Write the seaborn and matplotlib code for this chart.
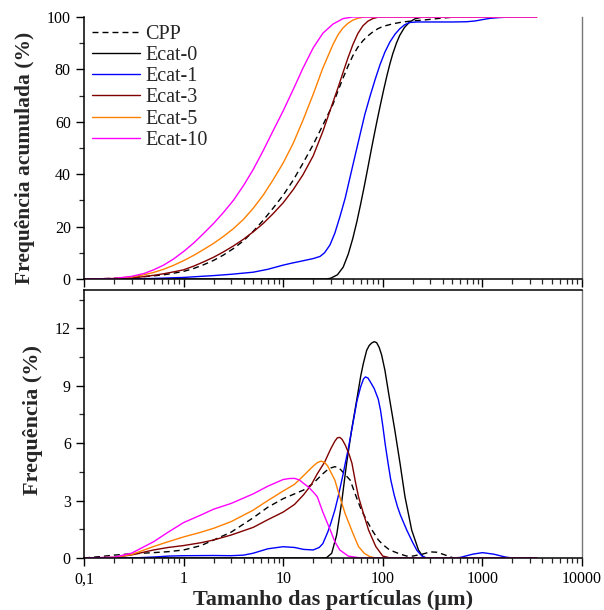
import matplotlib
matplotlib.use("Agg")
import matplotlib.pyplot as plt
import numpy as np
import pandas as pd
import seaborn as sns
from matplotlib.ticker import MultipleLocator, LogLocator, NullFormatter

# --- series names / styles ---
SERIES = ["CPP", "Ecat-0", "Ecat-1", "Ecat-3", "Ecat-5", "Ecat-10"]
COLORS = ["black", "black", "#0000FF", "#800000", "#FF8000", "#FF00FF"]

# --- frequency (%) vs particle size (um) ---
cpp_fx = [0.1, 0.15, 0.2, 0.3, 0.5, 0.7, 1, 1.5, 2, 3, 5, 7, 10, 13, 16, 20, 25, 28, 30, 33, 36, 38, 42,
          47, 55, 61, 70, 78, 90, 100, 117, 150, 174, 200, 250, 300, 350, 400, 500, 600, 3500]
cpp_fy = [0, 0.08, 0.15, 0.22, 0.28, 0.33, 0.42, 0.65, 0.94, 1.35, 2.1, 2.65, 3.1, 3.35, 3.55, 3.9, 4.4,
          4.62, 4.7, 4.77, 4.72, 4.6, 4.35, 4.07, 3.1, 2.5, 1.9, 1.46, 0.95, 0.7, 0.42, 0.2, 0.1, 0.1, 0.2,
          0.32, 0.3, 0.2, 0.02, 0, 0]

e0_fx = [0.1, 25, 27.3, 30.7, 34.4, 38.6, 43.3, 48.6, 55.4, 60, 63.7, 68.9, 73, 77.3, 82, 86.7, 92, 97.4,
         105, 116, 132, 149, 167, 195, 228, 250, 265, 3500]
e0_fy = [0, 0, 0.02, 0.25, 1.2, 2.9, 4.94, 6.68, 8.42, 9.5, 10.15, 10.85, 11.1, 11.23, 11.3, 11.25, 11.0,
         10.6, 9.81, 8.42, 6.68, 4.94, 3.2, 1.46, 0.42, 0.1, 0, 0]

e1_fx = [0.1, 0.3, 0.5, 0.7, 1, 2, 3, 4, 5, 7, 10, 13, 16, 20, 23, 25, 28, 30, 33, 36, 40, 42, 45, 50, 55,
         60, 64, 67, 71, 75, 82, 90, 95, 100, 106, 113, 120, 130, 140, 150, 174, 200, 220, 245, 270, 300,
         500, 600, 800, 1000, 1300, 1700, 2000, 3500]
e1_fy = [0, 0, 0.05, 0.1, 0.12, 0.13, 0.12, 0.15, 0.25, 0.48, 0.59, 0.55, 0.45, 0.42, 0.55, 0.75, 1.35,
         1.8, 2.5, 3.3, 4.4, 4.95, 5.7, 7.0, 8.2, 8.95, 9.35, 9.46, 9.4, 9.2, 8.85, 8.3, 7.7, 6.9, 5.9,
         4.95, 4.1, 3.3, 2.7, 2.25, 1.46, 0.8, 0.4, 0.12, 0.02, 0, 0, 0.03, 0.2, 0.28, 0.2, 0.05, 0, 0]

e3_fx = [0.1, 0.2, 0.3, 0.5, 0.7, 1, 1.5, 2, 3, 5, 7, 10, 13, 16, 19, 22, 26, 30, 33, 35, 37, 39, 42, 46,
         49, 53, 57, 65, 72, 85, 100, 120, 3500]
e3_fy = [0, 0.03, 0.16, 0.42, 0.55, 0.65, 0.8, 0.94, 1.2, 1.6, 2.0, 2.4, 2.8, 3.3, 3.8, 4.4, 5.0, 5.7, 6.1,
         6.28, 6.3, 6.2, 5.9, 5.4, 4.95, 4.0, 3.2, 2.2, 1.46, 0.6, 0.1, 0, 0]

e5_fx = [0.1, 0.2, 0.3, 0.5, 0.7, 1, 1.5, 2, 3, 5, 7, 10, 13, 16, 20, 22, 24, 26, 28, 33, 38, 42, 50, 57,
         65, 74, 85, 3500]
e5_fy = [0, 0.03, 0.18, 0.6, 0.85, 1.1, 1.35, 1.55, 1.9, 2.5, 3.0, 3.5, 3.85, 4.3, 4.8, 4.98, 5.06, 5.0,
         4.8, 4.07, 3.0, 2.3, 1.3, 0.6, 0.25, 0.07, 0, 0]

e10_fx = [0.1, 0.2, 0.3, 0.5, 0.7, 1, 1.5, 2, 3, 5, 7, 10, 11.5, 13, 14.5, 16, 18, 20, 22, 25, 30, 33,
          37, 45, 60, 3500]
e10_fy = [0, 0.04, 0.25, 0.85, 1.35, 1.85, 2.25, 2.55, 2.85, 3.35, 3.75, 4.1, 4.15, 4.16, 4.08, 3.9, 3.7,
          3.45, 3.2, 2.4, 1.4, 0.85, 0.42, 0.1, 0, 0]

# --- cumulative frequency (%) vs particle size (um) ---
cpp_cx = [0.1, 0.15, 0.2, 0.3, 0.4, 0.5, 0.63, 0.79, 1, 1.26, 1.58, 2, 2.5, 3.16, 4, 5, 6.3, 7.9, 10,
          12.6, 15.8, 20, 25, 31.6, 35.5, 39.8, 44.7, 50, 56, 63, 70.8, 79.4, 89, 100, 126, 158, 200, 251,
          316, 398, 501, 631, 3500]
cpp_cy = [0, 0.1, 0.3, 0.6, 0.9, 1.2, 1.6, 2.2, 2.9, 4.0, 5.4, 7.1, 9.1, 11.6, 14.6, 18.2, 22.4, 27.0,
          32.0, 37.7, 44.2, 51.3, 58.7, 66.7, 71.8, 76.6, 81.2, 85.2, 88.4, 90.9, 92.8, 94.3, 95.5, 96.4,
          97.4, 98.1, 98.5, 98.8, 99.2, 99.6, 99.9, 100, 100]

e0_cx = [0.1, 27, 30, 35, 40, 45, 50, 55, 60, 65, 70, 75, 80, 87, 94, 102, 110, 118, 126, 137, 148, 165,
         185, 210, 250, 3500]
e0_cy = [0, 0, 0.3, 1.6, 4.5, 9.5, 15.5, 22.0, 28.7, 35.2, 41.5, 47.5, 53.0, 59.9, 66.0, 72.2, 77.6, 82.2,
         86.0, 90.0, 93.0, 96.0, 98.0, 99.3, 100, 100]

e1_cx = [0.1, 0.3, 0.5, 1, 2, 3, 5, 7, 10, 12, 14.7, 20, 23.4, 26, 29.5, 33, 37.2, 42, 47, 53, 59, 66,
         74.5, 84, 94, 105, 118, 133, 148, 165, 186, 220, 300, 500, 700, 850, 1000, 1200, 1500, 2000, 3500]
e1_cy = [0, 0.05, 0.2, 0.6, 1.3, 1.8, 2.6, 3.7, 5.3, 6.0, 6.7, 7.8, 8.6, 10.0, 13.0, 17.5, 23.9, 31, 39,
         47.5, 55, 62.8, 69.8, 76.3, 81.9, 86.6, 90.5, 93.5, 95.5, 97, 97.9, 98.1, 98.1, 98.1, 98.2, 98.5,
         99.0, 99.5, 99.8, 100, 100]

e3_cx = [0.1, 0.2, 0.3, 0.4, 0.5, 0.63, 0.79, 1, 1.26, 1.58, 2, 2.5, 3.16, 4, 5, 6.3, 7.9, 10, 12.6, 15.8,
         20, 25, 31.6, 35.5, 39.8, 44.7, 50, 56, 63, 70.8, 79.4, 89, 100, 3500]
e3_cy = [0, 0.1, 0.4, 0.9, 1.4, 2.0, 2.7, 3.5, 4.9, 6.5, 8.3, 10.3, 12.6, 15.2, 18.0, 21.2, 24.9, 29.1,
         34.1, 39.8, 47.0, 56.3, 67.5, 73.0, 78.7, 84.4, 89.4, 93.6, 96.6, 98.4, 99.4, 99.9, 100, 100]

e5_cx = [0.1, 0.2, 0.3, 0.4, 0.5, 0.63, 0.79, 1, 1.26, 1.58, 2, 2.5, 3.16, 4, 5, 6.3, 7.9, 10, 12.6, 15.8,
         20, 25, 31.6, 35.5, 39.8, 44.7, 50, 56, 63, 70, 3500]
e5_cy = [0, 0.2, 0.8, 1.6, 2.5, 3.7, 5.2, 7.0, 9.0, 11.2, 13.6, 16.2, 19.2, 22.8, 27.0, 32.0, 37.8, 44.3,
         51.8, 60.6, 70.5, 80.5, 89.5, 93.2, 95.8, 97.6, 98.8, 99.5, 99.9, 100, 100]

e10_cx = [0.1, 0.2, 0.3, 0.4, 0.5, 0.63, 0.79, 1, 1.26, 1.58, 2, 2.5, 3.16, 4, 5, 6.3, 7.9, 10, 12.6,
          15.8, 20, 25, 31.6, 40, 50, 3500]
e10_cy = [0, 0.2, 1.0, 2.1, 3.5, 5.3, 7.6, 10.5, 13.7, 17.3, 21.2, 25.3, 30.0, 35.7, 41.8, 49.0, 56.5,
          64.2, 72.3, 80.5, 88.2, 93.8, 97.3, 99.4, 100, 100]

XTICKS = [0.1, 1, 10, 100, 1000, 10000]
XTICK_LABELS = ["0,1", "1", "10", "100", "1000", "10000"]


def build_frame(pairs):
    """Long-form table (one row per point) from (name, x, y) triples."""
    parts = []
    for name, xs, ys in pairs:
        parts.append(pd.DataFrame({"amostra": name, "tamanho": xs, "valor": ys}))
    return pd.concat(parts, ignore_index=True)


freq_df = build_frame(zip(SERIES, [cpp_fx, e0_fx, e1_fx, e3_fx, e5_fx, e10_fx],
                          [cpp_fy, e0_fy, e1_fy, e3_fy, e5_fy, e10_fy]))
cum_df = build_frame(zip(SERIES, [cpp_cx, e0_cx, e1_cx, e3_cx, e5_cx, e10_cx],
                         [cpp_cy, e0_cy, e1_cy, e3_cy, e5_cy, e10_cy]))

palette = dict(zip(SERIES, COLORS))
dashes = {name: "" for name in SERIES}
dashes["CPP"] = (4.3, 2.9)

sns.set_style("ticks")
plt.rcParams["font.family"] = ["Liberation Serif", "DejaVu Serif"]

fig = plt.figure(figsize=(6.04, 6.10), dpi=100)
ax_top = fig.add_axes([0.13907, 0.54262, 0.82450, 0.42951])
ax_bot = fig.add_axes([0.13907, 0.08525, 0.82450, 0.43934])

for ax, df, leg in [(ax_top, cum_df, True), (ax_bot, freq_df, False)]:
    sns.lineplot(data=df, x="tamanho", y="valor", hue="amostra", style="amostra",
                 hue_order=SERIES, style_order=SERIES, palette=palette, dashes=dashes,
                 linewidth=1.0, estimator=None, legend=leg, ax=ax)
    ax.set_xscale("log")
    ax.set_xlim(0.1, 10000)
    ax.xaxis.set_major_locator(LogLocator(base=10))
    ax.xaxis.set_minor_locator(LogLocator(base=10, subs=np.arange(2, 10)))
    ax.xaxis.set_minor_formatter(NullFormatter())
    ax.tick_params(which="major", direction="out", length=6, width=1.0, labelsize=11.5, colors="black")
    ax.tick_params(which="minor", direction="out", length=3.5, width=0.9)
    for side in ["left", "bottom", "top"]:
        ax.spines[side].set_linewidth(1.1)
        ax.spines[side].set_color("black")
    ax.spines["right"].set_color("#777777")
    ax.spines["right"].set_linewidth(1.0)
    ax.set_xlabel("")
    ax.set_ylabel("")

# upper panel: cumulative
ax_top.set_ylim(0, 100)
ax_top.yaxis.set_major_locator(MultipleLocator(20))
ax_top.yaxis.set_minor_locator(MultipleLocator(10))
ax_top.spines["top"].set_visible(False)
ax_top.set_xticks(XTICKS)
ax_top.set_xticklabels([])
ax_top.set_xlim(0.1, 10000)
ax_top.set_ylabel("Frequência acumulada (%)", fontsize=15.5, fontweight="bold")
ax_top.yaxis.set_label_coords(-0.098, 0.462)

handles, labels = ax_top.get_legend_handles_labels()
ax_top.legend(handles, labels, loc="upper left", bbox_to_anchor=(0.0, 1.0), frameon=False,
              fontsize=14.5, handlelength=2.4, handletextpad=0.25, labelspacing=0.1,
              borderaxespad=0.2, borderpad=0.2)

# lower panel: frequency
ax_bot.set_ylim(0, 14)
ax_bot.yaxis.set_major_locator(MultipleLocator(3))
ax_bot.yaxis.set_minor_locator(MultipleLocator(1.5))
ax_bot.set_xticks(XTICKS)
ax_bot.set_xticklabels(XTICK_LABELS)
ax_bot.set_xlim(0.1, 10000)
ax_bot.set_ylabel("Frequência (%)", fontsize=16, fontweight="bold")
ax_bot.yaxis.set_label_coords(-0.082, 0.515)
ax_bot.set_xlabel("Tamanho das partículas (µm)", fontsize=16, fontweight="bold", labelpad=2)

fig.savefig("out.png", dpi=100)
